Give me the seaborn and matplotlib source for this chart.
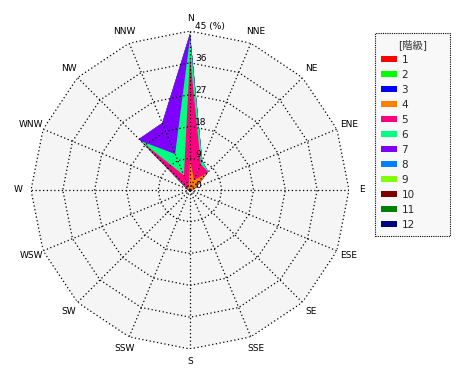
import numpy as np
import pandas as pd
import matplotlib
matplotlib.use("Agg")
import matplotlib.pyplot as plt
import seaborn as sns
from matplotlib.patches import Patch
from matplotlib import transforms

# ---------------- data ----------------
directions = ["N", "NNE", "NE", "ENE", "E", "ESE", "SE", "SSE",
              "S", "SSW", "SW", "WSW", "W", "WNW", "NW", "NNW"]
class_labels = ["1", "2", "3", "4", "5", "6", "7", "8", "9", "10", "11", "12"]
class_colors = ["#ff0000", "#00ff00", "#0000ff", "#ff8000", "#ff0080", "#00ff80",
                "#8000ff", "#0080ff", "#80ff00", "#800000", "#008000", "#000080"]

# frequency (%) of each class per direction (N, NNE, ..., NNW)
freq_1 = [0.1, 0.0, 0.1, 0.0, 0.0, 0.0, 0.0, 0.0, 0.0, 0.0, 0.0, 0.0, 0.0, 0.0, 0.1, 0.0]
freq_2 = [0.2, 0.1, 0.2, 0.1, 0.1, 0.1, 0.1, 0.1, 0.1, 0.1, 0.1, 0.1, 0.1, 0.1, 0.2, 0.1]
freq_3 = [0.2, 0.1, 0.1, 0.1, 0.1, 0.0, 0.0, 0.0, 0.0, 0.0, 0.0, 0.0, 0.1, 0.1, 0.1, 0.1]
freq_4 = [8.0, 2.8, 6.4, 1.3, 0.4, 0.3, 0.2, 0.2, 0.2, 0.2, 0.2, 0.2, 0.2, 0.4, 0.6, 0.8]
freq_5 = [29.5, 5.0, 0.4, 0.3, 0.1, 0.1, 0.1, 0.1, 0.1, 0.1, 0.1, 0.1, 0.1, 0.2, 18.0, 3.5]
freq_6 = [5.0, 1.0, 0.1, 0.1, 0.0, 0.0, 0.0, 0.0, 0.0, 0.0, 0.0, 0.0, 0.0, 0.1, 0.6, 6.5]
freq_7 = [1.2, 0.0, 0.0, 0.0, 0.0, 0.0, 0.0, 0.0, 0.0, 0.0, 0.0, 0.0, 0.0, 0.1, 0.8, 9.5]
freq_8 = [0.0] * 16
freq_9 = [0.0] * 16
freq_10 = [0.0] * 16
freq_11 = [0.0] * 16
freq_12 = [0.0] * 16

ring_values = [0, 9, 18, 27, 36, 45]
ring_labels = ["0", "9", "18", "27", "36", "45 (%)"]
r_max = 45

# ---------------- style ----------------
sns.set_theme(style="white")
plt.rcParams["font.family"] = ["DejaVu Sans", "Noto Sans CJK JP"]

freqs = pd.DataFrame(
    [freq_1, freq_2, freq_3, freq_4, freq_5, freq_6, freq_7, freq_8,
     freq_9, freq_10, freq_11, freq_12],
    index=class_labels, columns=directions)
cum = freqs.cumsum(axis=0)

fig = plt.figure(figsize=(4.7, 3.8), dpi=100)
fig.patch.set_facecolor("white")
cx, cy, R = 190, 190, 159
ax = fig.add_axes([(cx - R) / 470, (380 - cy - R) / 380, 2 * R / 470, 2 * R / 380],
                  projection="polar")
ax.set_theta_zero_location("N")
ax.set_theta_direction(-1)
ax.set_facecolor("none")

theta = np.deg2rad(np.arange(len(directions)) * 22.5)
th_closed = np.append(theta, theta[0])

# plot-area background (16-gon)
ax.fill(th_closed, np.full(len(th_closed), r_max), color="#f5f5f5", zorder=0, lw=0)

# stacked areas: outer classes first
for i in range(len(class_labels) - 1, -1, -1):
    vals = cum.iloc[i].to_numpy()
    ax.fill(th_closed, np.append(vals, vals[0]), color=class_colors[i],
            lw=0, zorder=1 + (len(class_labels) - i) * 0.01)

# dotted polygon rings and spokes
dot = (0, (1, 2))
for rv in ring_values[1:]:
    ax.plot(th_closed, np.full(len(th_closed), rv), color="black", lw=0.9,
            ls=dot, zorder=3)
for t in theta:
    ax.plot([t, t], [0, r_max], color="black", lw=0.9, ls=dot, zorder=3)

# radial labels
off = transforms.offset_copy(ax.transData, fig=fig, x=5, y=4, units="dots")
for rv, lab in zip(ring_values, ring_labels):
    ax.text(0, rv, lab, transform=off, ha="left", va="center", fontsize=6.5,
            color="black", zorder=5)

# direction labels
for t, d in zip(theta, directions):
    ax.text(t, 48.6, d, ha="center", va="center", fontsize=6.5, color="black",
            clip_on=False)

ax.set_ylim(0, r_max)
ax.grid(False)
ax.set_xticks([])
ax.set_yticks([])
ax.spines["polar"].set_visible(False)

# legend
handles = [Patch(facecolor=c, edgecolor="none") for c in class_colors]
leg = fig.legend(handles, class_labels, title="[階級]", loc="upper left",
                 bbox_to_anchor=(375 / 470, (380 - 245) / 380, 75 / 470, 212 / 380),
                 mode="expand", frameon=True, fancybox=False, fontsize=7.5,
                 title_fontsize=7.5, handlelength=1.55, handleheight=0.5,
                 labelspacing=0.48, handletextpad=0.4, borderaxespad=0,
                 borderpad=0.6)
frame = leg.get_frame()
frame.set_edgecolor("black")
frame.set_linestyle((0, (1, 1)))
frame.set_linewidth(0.8)
frame.set_facecolor("#f8f8f8")
frame.set_alpha(1)
leg.get_title().set_color("#333333")

fig.savefig("out.png", dpi=100, facecolor="white")
